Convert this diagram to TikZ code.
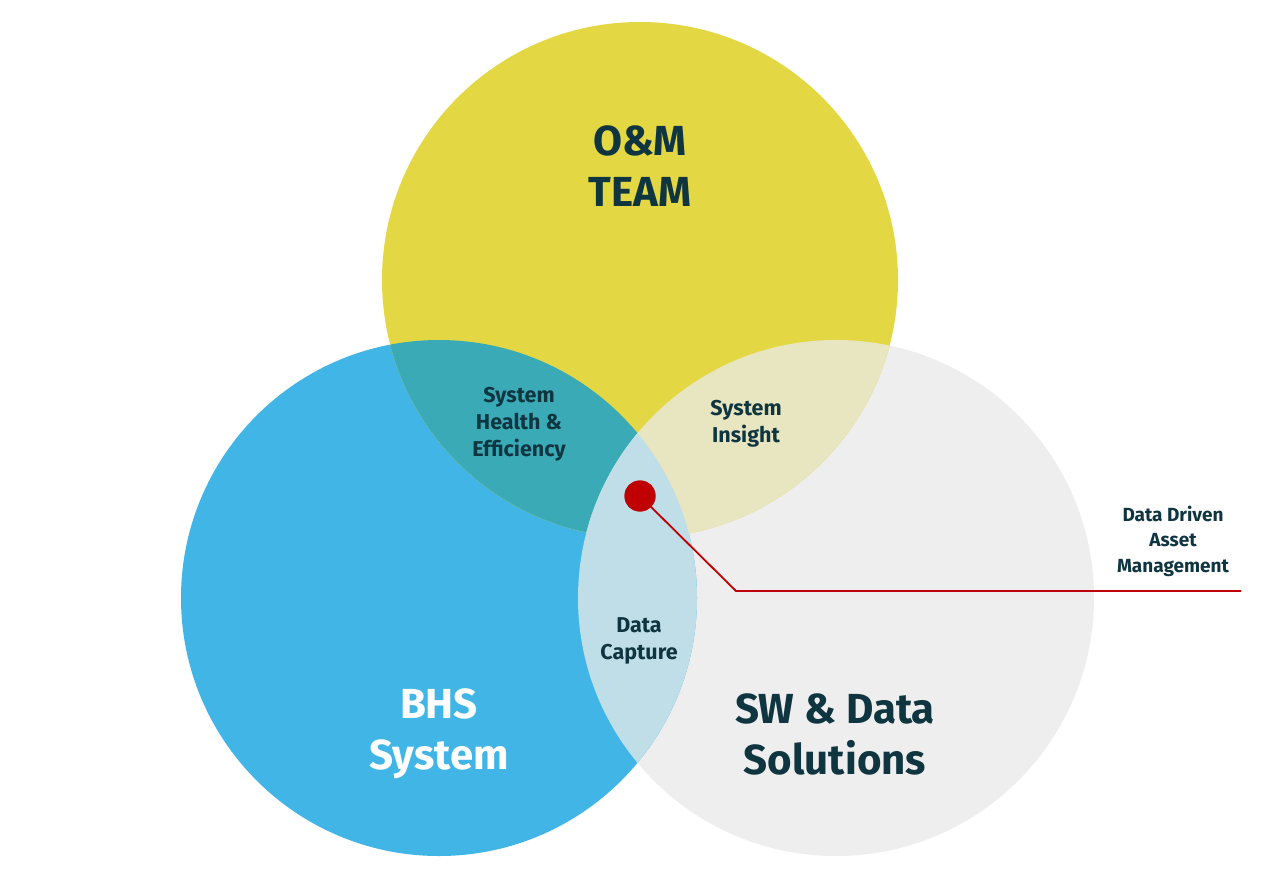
\documentclass[tikz,border=0pt]{standalone}
\usepackage{fontspec}
\setmainfont{Fira Sans}
\definecolor{cyel}{HTML}{E3D843}
\definecolor{cblu}{HTML}{41B6E6}
\definecolor{cgry}{HTML}{EEEEEE}
\definecolor{cteal}{HTML}{3AABB6}
\definecolor{cpale}{HTML}{E8E5C1}
\definecolor{clblu}{HTML}{BFDEE8}
\definecolor{ctxt}{HTML}{0F3540}
\definecolor{cred}{HTML}{C00000}
\tikzset{
  venn/.style={circle, minimum size=516pt, inner sep=0pt, draw=none},
  bigtxt/.style={align=center, font=\bfseries\fontsize{42}{51}\selectfont, text=ctxt, inner sep=0pt},
  smalltxt/.style={align=center, font=\bfseries\fontsize{21.5}{27}\selectfont, text=ctxt, inner sep=0pt},
  notetxt/.style={align=center, font=\bfseries\fontsize{19}{25.5}\selectfont, text=ctxt, inner sep=0pt},
  leader/.style={draw=cred, line width=1.8pt}
}
\begin{document}
\begin{tikzpicture}[x=1pt,y=-1pt]
\useasboundingbox (0,0) rectangle (1280,889);
\fill[white] (0,0) rectangle (1280,889);
% circles
\node[venn, fill=cgry] (grey) at (836,598) {};
\node[venn, fill=cblu] (blue) at (439,598) {};
\node[venn, fill=cyel] (yellow) at (640,280) {};
% overlaps
\begin{scope}
  \clip (yellow.center) circle (258);
  \fill[cteal] (blue.center) circle (258);
\end{scope}
\begin{scope}
  \clip (yellow.center) circle (258);
  \fill[cpale] (grey.center) circle (258);
\end{scope}
\begin{scope}
  \clip (blue.center) circle (258);
  \fill[clblu] (grey.center) circle (258);
\end{scope}
% labels
\node[bigtxt] (om) at (640,166) {O\&M\\TEAM};
\node[bigtxt, text=white] (bhs) at (439,734) {BHS\\System};
\node[bigtxt] (sw) at (835,734) {SW \& Data\\Solutions};
\node[smalltxt] (she) at (519,424) {System\\Health \&\\Efficiency};
\node[smalltxt] (si) at (746,424) {System\\Insight};
\node[smalltxt] (dc) at (639,641) {Data\\Capture};
\node[notetxt] (dd) at (1173,541) {Data Driven\\Asset\\Management};
% red marker and leader
\node[circle, fill=cred, minimum size=31pt, inner sep=0pt] (dot) at (640,496) {};
\coordinate (bend) at (736,591);
\coordinate (lend) at (1241,591);
\draw[leader] (dot.center) -- (bend) -- (lend);
\node[circle, fill=cred, minimum size=31pt, inner sep=0pt] at (dot.center) {};
\end{tikzpicture}
\end{document}
